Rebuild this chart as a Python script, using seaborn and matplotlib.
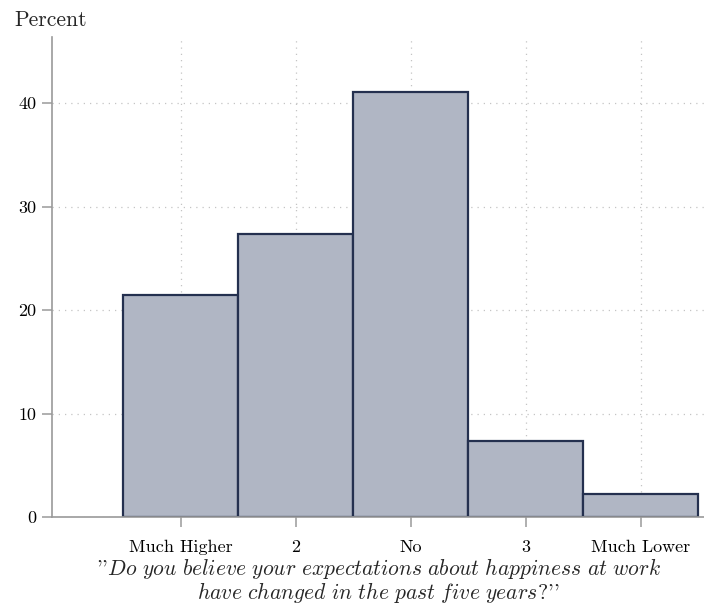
import matplotlib
matplotlib.use("Agg")
import matplotlib.pyplot as plt
import pandas as pd
import seaborn as sns

# answers and share of respondents (percent)
answers = ["Much Higher", "2", "No", "3", "Much Lower"]
percents = [21.5, 27.4, 41.1, 7.3, 2.2]
y_ticks = [0, 10, 20, 30, 40]

df = pd.DataFrame({"answer": answers, "percent": percents})

sns.set_style("white")
plt.rcParams["font.family"] = ["cmr10", "DejaVu Serif"]
plt.rcParams["axes.formatter.use_mathtext"] = True
plt.rcParams["mathtext.fontset"] = "cm"

fig = plt.figure(figsize=(7.04, 6.05), dpi=100)
ax = fig.add_axes([0.0739, 0.1455, 0.9261, 0.7933])

sns.barplot(x="answer", y="percent", data=df, ax=ax, width=1, saturation=1,
            color="#b0b6c4", edgecolor="#24304f", linewidth=1.6)

ax.set_xlim(-1.12, 4.55)
ax.set_ylim(0, 46.4)
ax.set_yticks(y_ticks)
ax.set_yticklabels([str(t) for t in y_ticks])

ax.set_axisbelow(True)
ax.grid(True, linestyle=(0, (1, 4)), color="#c4c4c4", linewidth=0.9)

for side in ["top", "right"]:
    ax.spines[side].set_visible(False)
for side in ["left", "bottom"]:
    ax.spines[side].set_color("#9a9a9a")
    ax.spines[side].set_linewidth(1.2)

ax.tick_params(axis="both", direction="out", length=7, width=1.1, color="#9a9a9a",
               labelsize=13, labelcolor="black", pad=4)
ax.tick_params(axis="x", pad=9)
ax.tick_params(axis="y", left=True)
ax.tick_params(axis="x", bottom=True)

line1 = r"$\it{Do\ you\ believe\ your\ expectations\ about\ happiness\ at\ work}$"
line2 = r"$\it{have\ changed\ in\ the\ past\ five\ years?}$"
ax.set_ylabel("")
ax.set_xlabel("''" + line1 + "\n" + line2 + "''",
              fontsize=15.5, labelpad=1, linespacing=0.95)

fig.text(0.02, 0.966, "Percent", fontsize=15.5, ha="left", va="center")

fig.savefig("out.png", dpi=100)
